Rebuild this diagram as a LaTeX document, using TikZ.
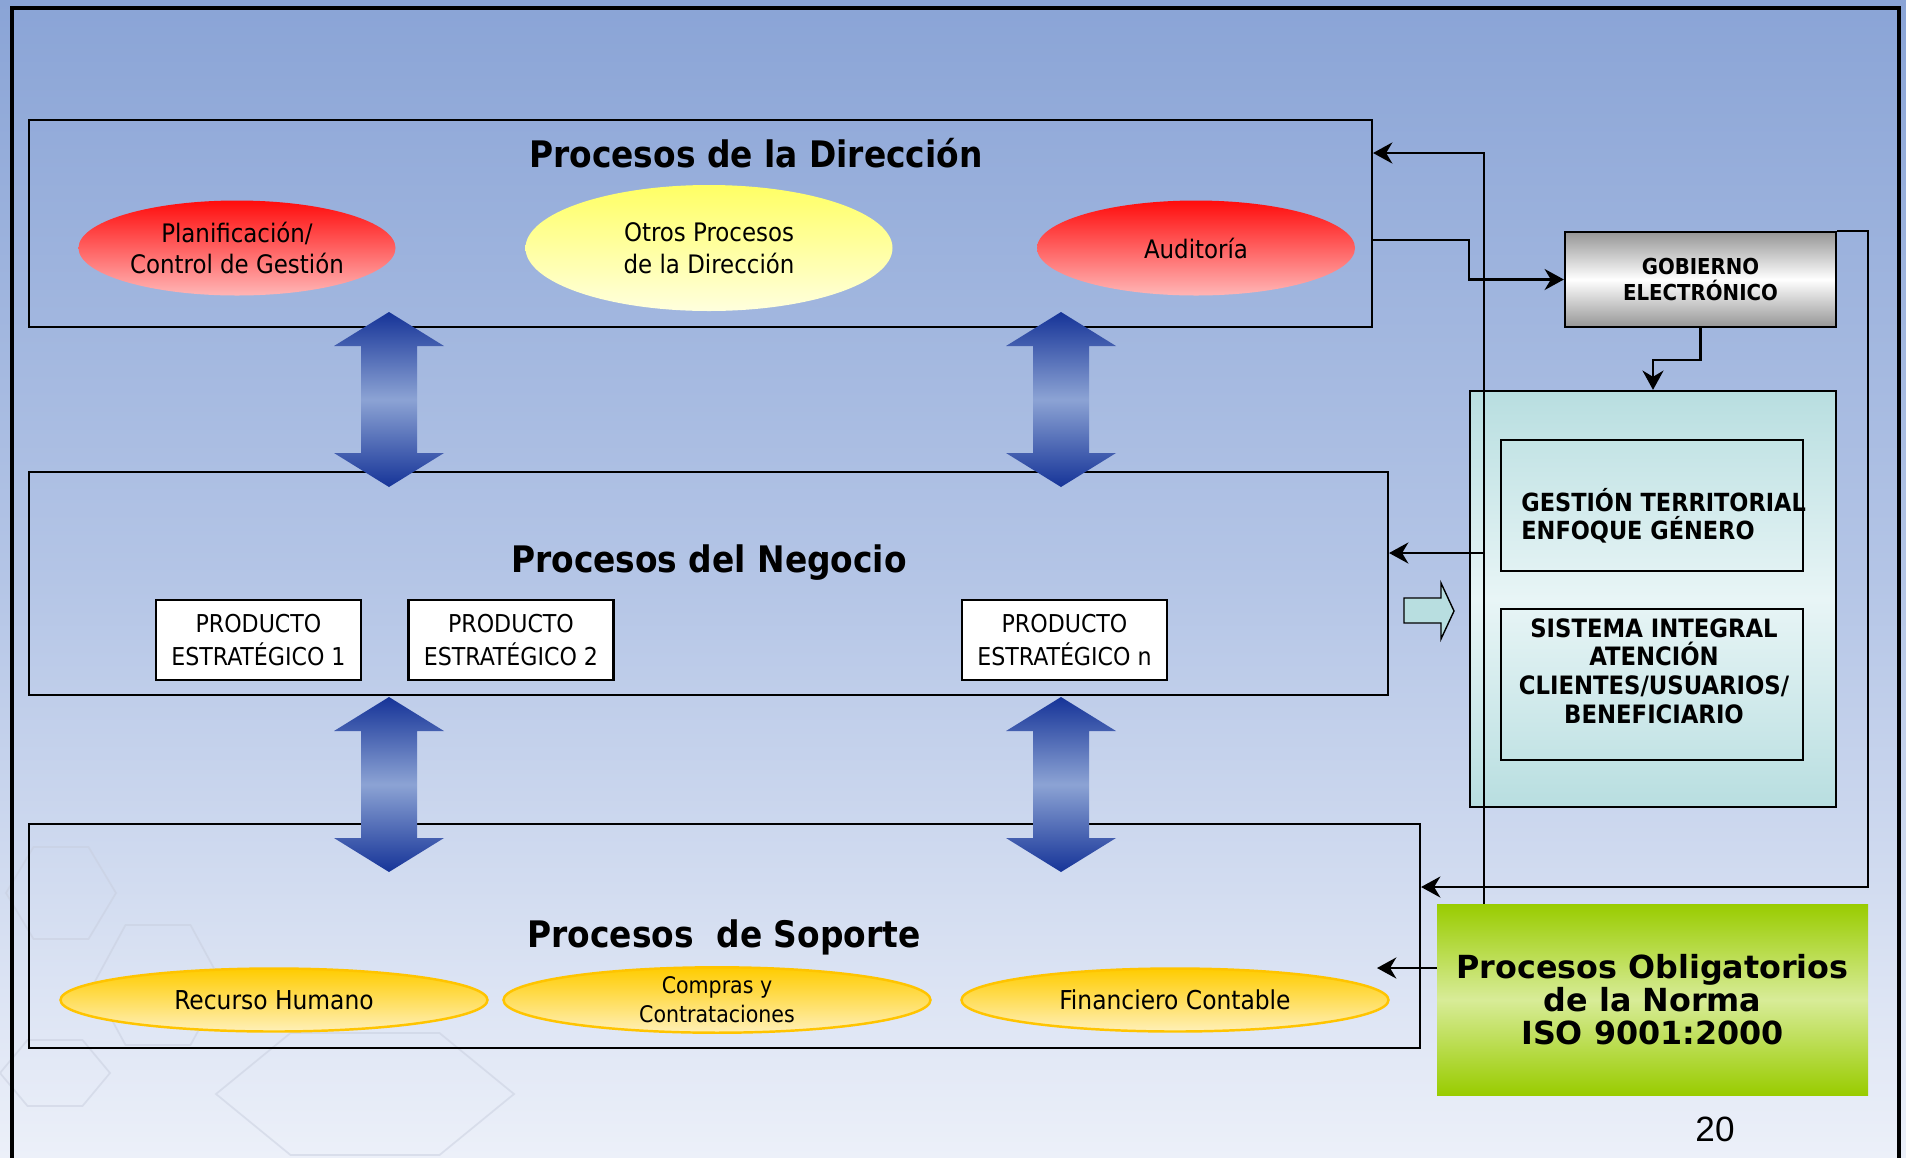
\documentclass[tikz,border=0pt]{standalone}
\usepackage{fontspec}
\setmainfont{DejaVu Sans Condensed}
\newfontfamily\widefont{DejaVu Sans}
\newfontfamily\numfont{Liberation Sans}
\usetikzlibrary{shapes.geometric, arrows.meta}

\definecolor{bgtop}{RGB}{138,164,214}
\definecolor{bgmid}{RGB}{180,197,230}
\definecolor{bgbot}{RGB}{236,240,249}
\definecolor{hexgray}{RGB}{200,206,222}
\definecolor{ovalred}{RGB}{255,12,12}
\definecolor{ovalpink}{RGB}{255,182,182}
\definecolor{ovalyellow}{RGB}{255,255,100}
\definecolor{ovallight}{RGB}{255,255,222}
\definecolor{supgold}{RGB}{255,204,0}
\definecolor{supcream}{RGB}{255,240,184}
\definecolor{supborder}{RGB}{255,196,0}
\definecolor{arrowdark}{RGB}{22,52,152}
\definecolor{arrowlight}{RGB}{140,163,212}
\definecolor{govgray}{RGB}{150,150,150}
\definecolor{tealdark}{RGB}{184,222,224}
\definecolor{teallight}{RGB}{232,245,246}
\definecolor{normagreen}{RGB}{153,204,0}
\definecolor{normalight}{RGB}{216,236,152}

\newcommand{\unitpx}{0.02cm}
% vertical double arrow: x, top tip, bottom tip
\newcommand{\dblarrow}[3]{%
  \shade[bigarrow] (#1,#2) -- (#1+55,#2+34) -- (#1+28,#2+34) -- (#1+28,#3-34) -- (#1+55,#3-34)
    -- (#1,#3) -- (#1-55,#3-34) -- (#1-28,#3-34) -- (#1-28,#2+34) -- (#1-55,#2+34) -- cycle;}

\tikzset{
  procbox/.style={draw, line width=1.2pt, inner sep=0pt},
  proctitle/.style={font=\fontsize{20.8}{24}\selectfont\bfseries},
  redoval/.style={ellipse, inner sep=0pt, top color=ovalred, bottom color=ovalpink, align=center,
    font=\fontsize{14.5}{18}\selectfont},
  yellowoval/.style={ellipse, inner sep=0pt, top color=ovalyellow, bottom color=ovallight, align=center,
    font=\fontsize{14.5}{18}\selectfont},
  supoval/.style={ellipse, draw=supborder, line width=1.4pt, inner sep=0pt, top color=supgold,
    bottom color=supcream, minimum width=427*\unitpx, minimum height=63*\unitpx, align=center},
  prodbox/.style={draw, fill=white, line width=1.2pt, minimum width=205*\unitpx, minimum height=80*\unitpx,
    inner sep=0pt, align=center, font=\fontsize{14}{18.5}\selectfont},
  tealbox/.style={draw, line width=1.2pt, inner sep=0pt},
  tealtext/.style={inner sep=0pt, font=\fontsize{14.2}{16}\selectfont\bfseries},
  conn/.style={line width=1.3pt, -{Stealth[length=11pt, width=12pt]}},
  bigarrow/.style={top color=arrowdark, bottom color=arrowdark, middle color=arrowlight},
  hexline/.style={draw=hexgray, line width=1pt, opacity=0.5},
}

\begin{document}
\begin{tikzpicture}[x=0.02cm, y=-0.02cm]
    \useasboundingbox (0,0) rectangle (1906,1157);
    \shade[top color=bgtop, bottom color=bgbot, middle color=bgmid] (0,0) rectangle (1906,1157);

    % faint hexagons in the background
    \foreach \cx/\cy/\rx/\ry in {61/893/55/46, 158/985/65/60, 55/1073/55/33, 365/1094/149/61}
        \draw[hexline] (\cx-\rx,\cy) -- (\cx-\rx/2,\cy-\ry) -- (\cx+\rx/2,\cy-\ry) -- (\cx+\rx,\cy)
            -- (\cx+\rx/2,\cy+\ry) -- (\cx-\rx/2,\cy+\ry) -- cycle;

    % slide frame
    \draw[line width=2.8pt] (12,8) rectangle (1899,1200);

    % the three process levels
    \node[procbox, minimum width=1343*\unitpx, minimum height=207*\unitpx] (dir) at (700.5,223.5) {};
    \node[procbox, minimum width=1359*\unitpx, minimum height=223*\unitpx] (neg) at (708.5,583.5) {};
    \node[procbox, minimum width=1391*\unitpx, minimum height=224*\unitpx] (sop) at (724.5,936) {};

    \node[proctitle] (dirtitle) at (756,153) {Procesos de la Dirección};
    \node[proctitle] (negtitle) at (709,563) {Procesos del Negocio};
    \node[proctitle] (soptitle) at (724,937) {Procesos\ \ de Soporte};

    % Dirección
    \node[redoval, minimum width=317*\unitpx, minimum height=95*\unitpx] (plan) at (237,248) {Planificación/\\Control de Gestión};
    \node[yellowoval, minimum width=367*\unitpx, minimum height=126*\unitpx] (otros) at (709,248) {Otros Procesos\\de la Dirección};
    \node[redoval, minimum width=318*\unitpx, minimum height=95*\unitpx] (aud) at (1196,248) {Auditoría};

    % Negocio
    \node[prodbox] (prod1) at (258.5,640) {PRODUCTO\\ESTRATÉGICO 1};
    \node[prodbox] (prod2) at (511,640) {PRODUCTO\\ESTRATÉGICO 2};
    \node[prodbox] (prodn) at (1064.5,640) {PRODUCTO\\ESTRATÉGICO n};

    % Soporte
    \node[supoval, font=\fontsize{14.8}{18}\selectfont] (rrhh) at (274,1000) {Recurso Humano};
    \node[supoval, font=\fontsize{13}{16.5}\selectfont] (compras) at (717,1000) {Compras y\\Contrataciones};
    \node[supoval, font=\fontsize{14.8}{18}\selectfont] (finan) at (1175,1000) {Financiero Contable};

    % links between levels
    \dblarrow{389}{312}{487}
    \dblarrow{1061}{312}{487}
    \dblarrow{389}{697}{872}
    \dblarrow{1061}{697}{872}

    % right hand side
    \node[draw, line width=1.3pt, top color=govgray, bottom color=govgray, middle color=white,
        minimum width=271*\unitpx, minimum height=95*\unitpx, inner sep=0pt, align=center,
        font=\fontsize{12.5}{14.5}\selectfont\bfseries] (gob) at (1700.5,279.5) {GOBIERNO\\ELECTRÓNICO};
    \node[draw, line width=1.3pt, top color=tealdark, bottom color=tealdark, middle color=teallight,
        minimum width=366*\unitpx, minimum height=416*\unitpx, inner sep=0pt] (teal) at (1653,599) {};
    \node[tealbox, minimum width=302*\unitpx, minimum height=131*\unitpx] (gtbox) at (1652,505.5) {};
    \node[tealbox, minimum width=302*\unitpx, minimum height=151*\unitpx] (siabox) at (1652,684.5) {};
    \node[tealtext, anchor=west, align=left] (gttext) at (1521,516) {GESTIÓN TERRITORIAL\\ENFOQUE GÉNERO};
    \node[tealtext, align=center, font=\fontsize{14.4}{16.4}\selectfont\bfseries] (siatext) at (1654,671)
        {SISTEMA INTEGRAL\\ATENCIÓN\\CLIENTES/USUARIOS/\\BENEFICIARIO};

    \draw[fill=tealdark, line width=0.8pt] (1404,598) -- (1441,598) -- (1441,583) -- (1454,611)
        -- (1441,639) -- (1441,623) -- (1404,623) -- cycle; % hollow arrow to the right

    \node[top color=normagreen, bottom color=normagreen, middle color=normalight,
        minimum width=431*\unitpx, minimum height=191*\unitpx, inner sep=0pt, align=center,
        font=\widefont\fontsize{18.1}{18.7}\selectfont\bfseries] (norma) at (1652.5,999.5)
        {Procesos Obligatorios\\de la Norma\\ISO 9001:2000};

    % connectors
    \coordinate (vtop) at (1484,153);
    \coordinate (vneg) at (1484,553);
    \coordinate (isoin) at (1377,968);
    \coordinate (rloop) at (1868,887);
    \coordinate (dgbend) at (1469,240);
    \coordinate (gtbend) at (1653,360);

    \draw[conn] (norma.north -| vtop) -- (vtop) -- (dir.east |- vtop); % norma to Dirección
    \draw[conn] (vneg) -- (neg.east |- vneg); % norma to Negocio
    \draw[conn] (norma.west |- isoin) -- (isoin); % norma to Soporte
    \draw[conn] (gob.north east) -| (rloop) -- (sop.east |- rloop); % gobierno to Soporte
    \draw[conn] (dir.east |- dgbend) -- (dgbend) |- (gob.west); % Dirección to gobierno
    \draw[conn] (gob.south) |- (gtbend) -- (teal.north); % gobierno to the teal block

    \node[font=\numfont\fontsize{20}{24}\selectfont] (pagenum) at (1715,1129) {20};
\end{tikzpicture}
\end{document}
